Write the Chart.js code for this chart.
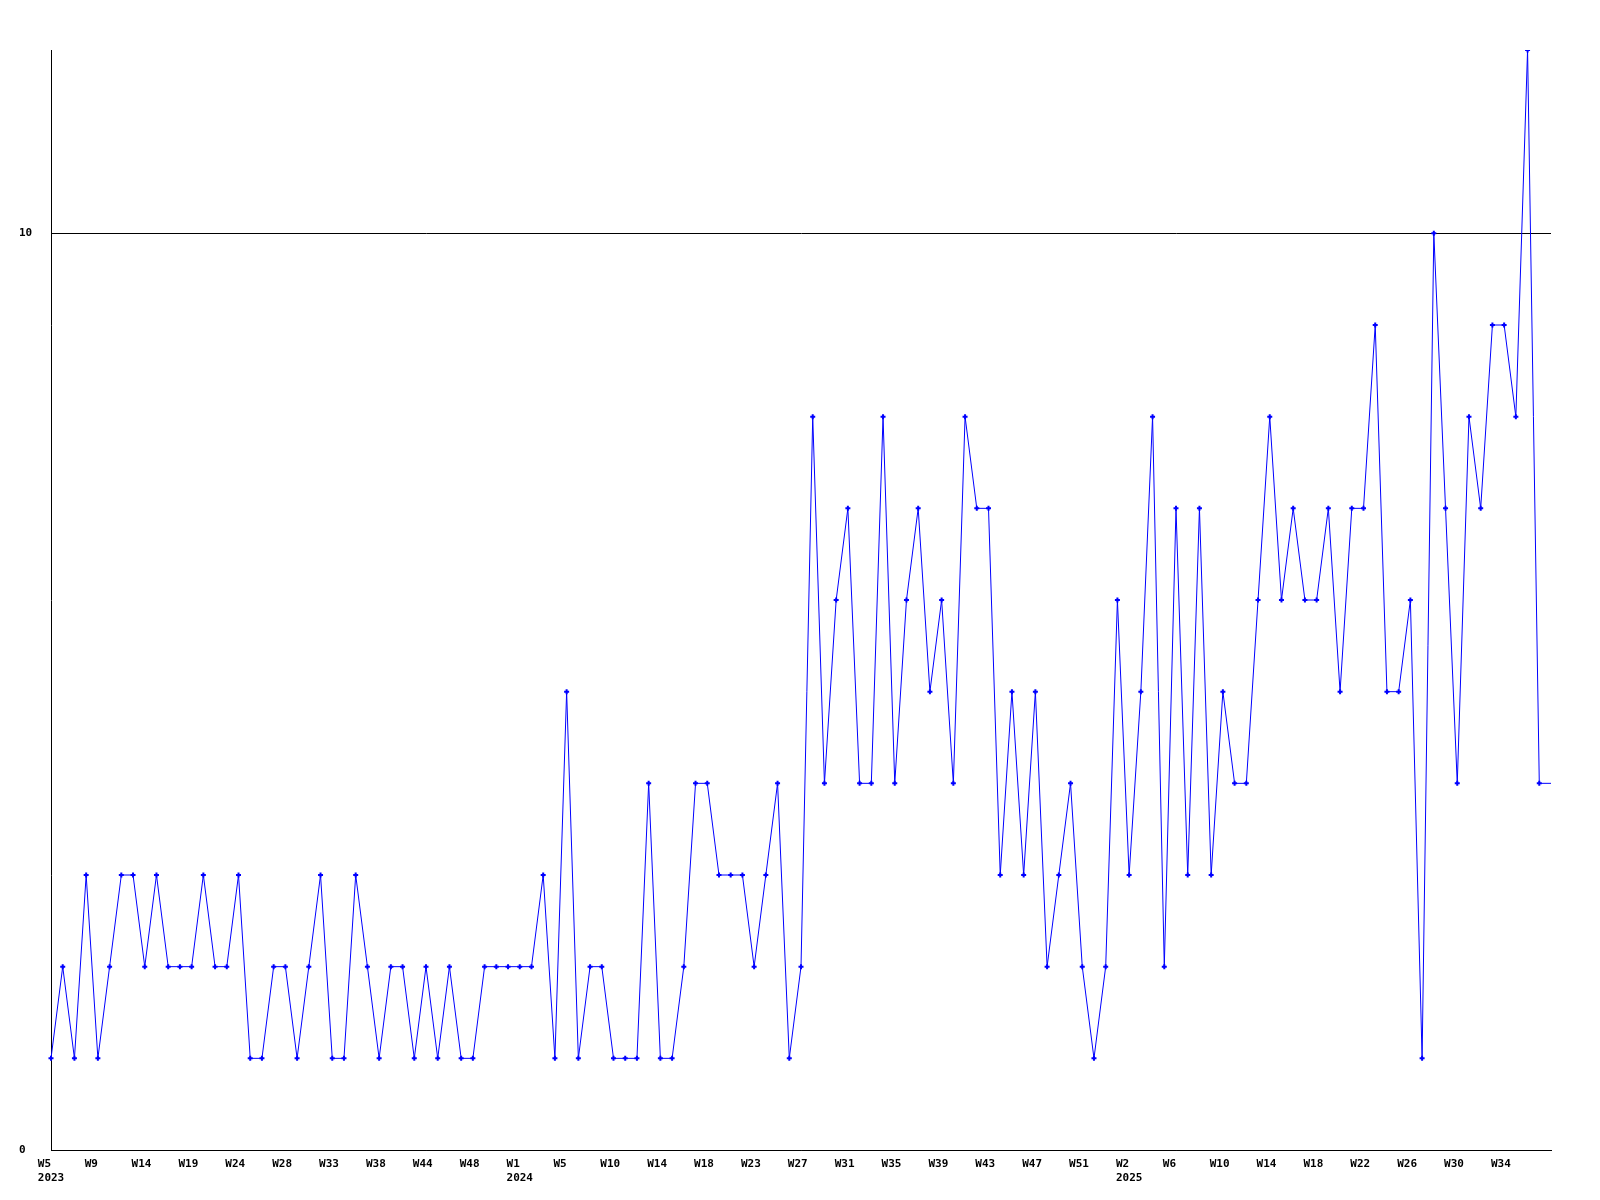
<!DOCTYPE html>
<html>
<head>
<meta charset="utf-8">
<script src="https://cdn.jsdelivr.net/npm/chart.js@4"></script>
<style>
  body { margin: 0; background: #fff; }
  canvas { display: block; }
</style>
</head>
<body>
<canvas id="chart" width="1600" height="1200"></canvas>
<script>
// weeks on the x axis (only weeks that have data)
const weeks = [
  '2023-W5', '2023-W6', '2023-W7', '2023-W8',
  '2023-W9', '2023-W10', '2023-W12', '2023-W13',
  '2023-W14', '2023-W15', '2023-W16', '2023-W18',
  '2023-W19', '2023-W20', '2023-W22', '2023-W23',
  '2023-W24', '2023-W25', '2023-W26', '2023-W27',
  '2023-W28', '2023-W29', '2023-W31', '2023-W32',
  '2023-W33', '2023-W34', '2023-W35', '2023-W37',
  '2023-W38', '2023-W40', '2023-W41', '2023-W43',
  '2023-W44', '2023-W45', '2023-W46', '2023-W47',
  '2023-W48', '2023-W49', '2023-W50', '2023-W52',
  '2024-W1', '2024-W2', '2024-W3', '2024-W4',
  '2024-W5', '2024-W6', '2024-W8', '2024-W9',
  '2024-W10', '2024-W11', '2024-W12', '2024-W13',
  '2024-W14', '2024-W15', '2024-W16', '2024-W17',
  '2024-W18', '2024-W19', '2024-W20', '2024-W22',
  '2024-W23', '2024-W24', '2024-W25', '2024-W26',
  '2024-W27', '2024-W28', '2024-W29', '2024-W30',
  '2024-W31', '2024-W32', '2024-W33', '2024-W34',
  '2024-W35', '2024-W36', '2024-W37', '2024-W38',
  '2024-W39', '2024-W40', '2024-W41', '2024-W42',
  '2024-W43', '2024-W44', '2024-W45', '2024-W46',
  '2024-W47', '2024-W48', '2024-W49', '2024-W50',
  '2024-W51', '2024-W52', '2024-W53', '2025-W1',
  '2025-W2', '2025-W3', '2025-W4', '2025-W5',
  '2025-W6', '2025-W7', '2025-W8', '2025-W9',
  '2025-W10', '2025-W11', '2025-W12', '2025-W13',
  '2025-W14', '2025-W15', '2025-W16', '2025-W17',
  '2025-W18', '2025-W19', '2025-W20', '2025-W21',
  '2025-W22', '2025-W23', '2025-W24', '2025-W25',
  '2025-W26', '2025-W27', '2025-W28', '2025-W29',
  '2025-W30', '2025-W31', '2025-W32', '2025-W33',
  '2025-W34', '2025-W35', '2025-W36', '2025-W37',
  '2025-W38'
];

// count per week
const counts = [
  1, 2, 1, 3, 1, 2, 3, 3, 2, 3,
  2, 2, 2, 3, 2, 2, 3, 1, 1, 2,
  2, 1, 2, 3, 1, 1, 3, 2, 1, 2,
  2, 1, 2, 1, 2, 1, 1, 2, 2, 2,
  2, 2, 3, 1, 5, 1, 2, 2, 1, 1,
  1, 4, 1, 1, 2, 4, 4, 3, 3, 3,
  2, 3, 4, 1, 2, 8, 4, 6, 7, 4,
  4, 8, 4, 6, 7, 5, 6, 4, 8, 7,
  7, 3, 5, 3, 5, 2, 3, 4, 2, 1,
  2, 6, 3, 5, 8, 2, 7, 3, 7, 3,
  5, 4, 4, 6, 8, 6, 7, 6, 6, 7,
  5, 7, 7, 9, 5, 5, 6, 1, 10, 7,
  4, 8, 7, 9, 9, 8, 12, 4, 4
];

const yTicks = [0, 10];
const labelEvery = 4;

const font = { family: 'DejaVu Sans Mono', size: 11, weight: 'bold', lineHeight: 1.3 };

const ctx = document.getElementById('chart').getContext('2d');
const chart = new Chart(ctx, {
  type: 'line',
  data: {
    labels: weeks,
    datasets: [{
      data: counts,
      borderColor: '#0000ff',
      backgroundColor: '#0000ff',
      borderWidth: 1,
      tension: 0,
      pointStyle: 'cross',
      pointRadius: (c) => c.dataIndex === counts.length - 1 ? 0 : 2.5,
      pointBorderWidth: 2,
      pointBorderColor: '#0000ff'
    }]
  },
  options: {
    responsive: false,
    animation: false,
    layout: { padding: { left: 19, top: 50, right: 49, bottom: 0 } },
    plugins: {
      legend: { display: false },
      tooltip: { enabled: false }
    },
    scales: {
      x: {
        type: 'category',
        offset: false,
        border: { display: true, color: '#000', width: 1 },
        grid: { display: false, drawTicks: false },
        ticks: {
          autoSkip: false,
          maxRotation: 0,
          padding: 7,
          color: '#000',
          font,
          callback: function (value, index) {
            // last week sits on the right edge and gets no label
            if (index % labelEvery !== 0 || index === weeks.length - 1) return '';
            const [year, week] = weeks[index].split('-');
            const prev = index >= labelEvery ? weeks[index - labelEvery].split('-')[0] : null;
            if (year !== prev) return [week.padEnd(4), year];
            return week.padEnd(4);
          }
        },
        afterFit: (scale) => { scale.height = 50; }
      },
      y: {
        min: 0,
        max: 12,
        border: { display: true, color: '#000', width: 1 },
        grid: { color: '#000', lineWidth: 1, drawTicks: false },
        afterBuildTicks: (scale) => { scale.ticks = yTicks.map(v => ({ value: v })); },
        ticks: {
          crossAlign: 'far',
          padding: 0,
          color: '#000',
          font
        },
        afterFit: (scale) => { scale.width = 32; }
      }
    }
  }
});
</script>
</body>
</html>
